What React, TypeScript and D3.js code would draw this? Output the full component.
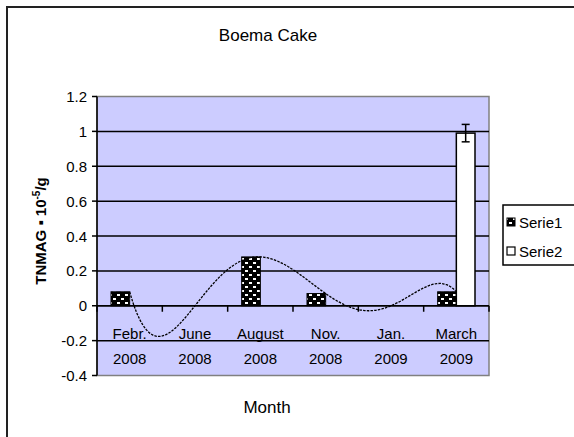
import React from "react";
import * as d3 from "d3";

const categories = ["Febr.", "June", "August", "Nov.", "Jan.", "March"];
const years = ["2008", "2008", "2008", "2008", "2009", "2009"];
const serie1 = [0.08, 0, 0.28, 0.07, 0, 0.08];
const serie2: (number | null)[] = [null, null, null, null, null, 0.99];
const serie2Err = [0, 0, 0, 0, 0, 0.05];
const yTicks = [1.2, 1, 0.8, 0.6, 0.4, 0.2, 0, -0.2, -0.4];
const seriesNames = ["Serie1", "Serie2"];

const W = 574;
const H = 437;
const PL = 97, PR = 489, PT = 96.5, PB = 375.5;
const FONT = "'Liberation Sans', Arial, sans-serif";

function lagrange(xs: number[], ys: number[], t: number) {
  let s = 0;
  for (let i = 0; i < xs.length; i++) {
    let l = 1;
    for (let j = 0; j < xs.length; j++) {
      if (j !== i) l *= (t - xs[j]) / (xs[i] - xs[j]);
    }
    s += ys[i] * l;
  }
  return s;
}

export default function App() {
  const y = d3.scaleLinear().domain([-0.4, 1.2]).range([PB, PT]);
  const x = d3.scaleBand().domain(categories).range([PL, PR]).paddingInner(0).paddingOuter(0);
  const bw = x.bandwidth();
  const xs = d3.scaleBand().domain(seriesNames).range([0, bw]).paddingInner(0).paddingOuter(0.75);
  const sbw = xs.bandwidth();

  // order-5 polynomial trendline through Serie1 (category index as x)
  const idx = categories.map((_, i) => i);
  const tx = d3.scaleLinear().domain([0, categories.length - 1]).range([
    (x(categories[0]) as number) + bw / 2,
    (x(categories[categories.length - 1]) as number) + bw / 2,
  ]);
  const ts = d3.range(0, categories.length - 1 + 0.0001, 0.05);
  const trend = d3
    .line<number>()
    .x((t) => tx(t))
    .y((t) => y(lagrange(idx, serie1, t)))
    .curve(d3.curveMonotoneX)(ts);

  const y0 = y(0);
  const boundaries = d3.range(categories.length + 1).map((i) => PL + i * bw);

  return (
    <svg
      width={W}
      height={H}
      style={{ position: "absolute", left: 0, top: 0, background: "#fff" }}
      fontFamily={FONT}
    >
      <defs>
        <pattern id="brick" width="8" height="8" patternUnits="userSpaceOnUse">
          <rect width="8" height="8" fill="#000" />
          <rect x="1" y="2" width="3" height="2" fill="#fff" />
          <rect x="5" y="6" width="3" height="2" fill="#fff" />
        </pattern>
      </defs>
      {/* chart border */}
      <rect x={7} y={7} width={620} height={480} fill="#fff" stroke="#222" strokeWidth={2} />

      {/* title */}
      <text x={268} y={41} textAnchor="middle" fontSize={17} fill="#000">
        Boema Cake
      </text>

      {/* plot area */}
      <rect x={PL} y={PT} width={PR - PL} height={PB - PT} fill="#CCCCFF" stroke="#808080" strokeWidth={1.5} />

      {/* gridlines */}
      {yTicks.map((v) =>
        v === -0.4 || v === 1.2 ? null : (
          <line key={"g" + v} x1={PL} x2={PR} y1={y(v)} y2={y(v)} stroke="#000" strokeWidth={1.5} />
        )
      )}

      {/* y axis */}
      <line x1={PL} x2={PL} y1={PT} y2={PB} stroke="#000" strokeWidth={1.5} />
      {yTicks.map((v) => (
        <g key={"t" + v}>
          <line x1={PL - 5} x2={PL} y1={y(v)} y2={y(v)} stroke="#000" strokeWidth={1.5} />
          <text x={PL - 10} y={y(v) + 5.5} textAnchor="end" fontSize={15} fill="#000">
            {String(v)}
          </text>
        </g>
      ))}

      {/* category labels */}
      {categories.map((c, i) => {
        const cx = (x(c) as number) + bw / 2;
        return (
          <g key={"c" + c}>
            <text x={cx} y={339} textAnchor="middle" fontSize={15} fill="#000">
              {c}
            </text>
            <text x={cx} y={364} textAnchor="middle" fontSize={15} fill="#000">
              {years[i]}
            </text>
          </g>
        );
      })}

      {/* bars serie1 */}
      {serie1.map((v, i) =>
        v > 0 ? (
          <rect
            key={"s1" + i}
            x={(x(categories[i]) as number) + (xs("Serie1") as number)}
            y={y(v)}
            width={sbw}
            height={y0 - y(v)}
            fill="url(#brick)"
            stroke="#000"
            strokeWidth={1}
          />
        ) : null
      )}
      {/* bars serie2 */}
      {serie2.map((v, i) =>
        v != null ? (
          <g key={"s2" + i}>
            <rect
              x={(x(categories[i]) as number) + (xs("Serie2") as number)}
              y={y(v)}
              width={sbw}
              height={y0 - y(v)}
              fill="#fff"
              stroke="#000"
              strokeWidth={1.5}
            />
            {(() => {
              const cx = (x(categories[i]) as number) + (xs("Serie2") as number) + sbw / 2;
              const e = serie2Err[i];
              return (
                <g stroke="#000" strokeWidth={1.5}>
                  <line x1={cx} x2={cx} y1={y(v + e)} y2={y(v - e)} />
                  <line x1={cx - 4} x2={cx + 4} y1={y(v + e)} y2={y(v + e)} />
                  <line x1={cx - 4} x2={cx + 4} y1={y(v - e)} y2={y(v - e)} />
                </g>
              );
            })()}
          </g>
        ) : null
      )}

      {/* x axis */}
      <line x1={PL} x2={PR} y1={y0} y2={y0} stroke="#000" strokeWidth={1.5} />
      {boundaries.map((bx, i) => (
        <line key={"xt" + i} x1={bx} x2={bx} y1={y0} y2={y0 + 6} stroke="#000" strokeWidth={1.5} />
      ))}

      {/* trendline */}
      <path d={trend || ""} fill="none" stroke="#000" strokeWidth={1.3} strokeDasharray="2.5,1.2" />

      {/* axis titles */}
      <text x={267} y={413} textAnchor="middle" fontSize={17} fill="#000">
        Month
      </text>
      <text
        transform={`translate(46,231) rotate(-90)`}
        textAnchor="middle"
        fontSize={15}
        fontWeight="bold"
        fill="#000"
      >
        TNMAG ▪ 10<tspan dy={-6} fontSize={10}>-5</tspan>
        <tspan dy={6}>/g</tspan>
      </text>

      {/* legend */}
      <rect x={503} y={205} width={90} height={60} fill="#fff" stroke="#000" strokeWidth={1.5} />
      <rect x={507} y={218} width={8} height={8} fill="url(#brick)" stroke="#000" strokeWidth={1} />
      <text x={519} y={227.5} fontSize={15} fill="#000">
        {seriesNames[0]}
      </text>
      <rect x={507} y={247} width={8} height={8} fill="#fff" stroke="#000" strokeWidth={1.2} />
      <text x={519} y={256.5} fontSize={15} fill="#000">
        {seriesNames[1]}
      </text>
    </svg>
  );
}
